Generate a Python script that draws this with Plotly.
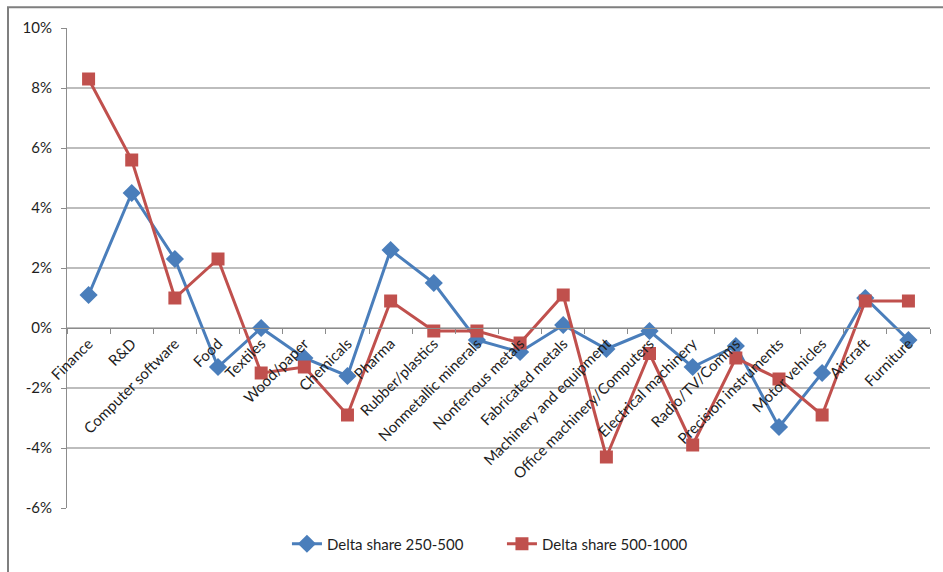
import plotly.graph_objects as go

sectors = [
    "Finance", "R&D", "Computer software", "Food", "Textiles", "Wood/paper",
    "Chemicals", "Pharma", "Rubber/plastics", "Nonmetallic minerals",
    "Nonferrous metals", "Fabricated metals", "Machinery and equipment",
    "Office machinery/Computers", "Electrical machinery", "Radio/TV/Comms",
    "Precision instruments", "Motor vehicles", "Aircraft", "Furniture",
]
delta_250_500 = [1.1, 4.5, 2.3, -1.3, 0.0, -1.0, -1.6, 2.6, 1.5, -0.4,
                 -0.8, 0.1, -0.7, -0.1, -1.3, -0.6, -3.3, -1.5, 1.0, -0.4]
delta_500_1000 = [8.3, 5.6, 1.0, 2.3, -1.5, -1.3, -2.9, 0.9, -0.1, -0.1,
                  -0.5, 1.1, -4.3, -0.85, -3.9, -1.0, -1.7, -2.9, 0.9, 0.9]
y_ticks = [-6, -4, -2, 0, 2, 4, 6, 8, 10]

BLUE = "#4A7EBB"
RED = "#C0504D"
GRID = "#BDBDBD"
AXIS = "#8C8C8C"
FONT = "Lato, 'Open Sans', sans-serif"
TEXT = "#1E1E1E"

fig = go.Figure()
fig.add_trace(go.Scatter(
    x=sectors, y=delta_250_500, name="Delta share 250-500",
    mode="lines+markers",
    line=dict(color=BLUE, width=3),
    marker=dict(symbol="diamond", size=14, color=BLUE),
))
fig.add_trace(go.Scatter(
    x=sectors, y=delta_500_1000, name="Delta share 500-1000",
    mode="lines+markers",
    line=dict(color=RED, width=3),
    marker=dict(symbol="square", size=13, color=RED),
))
# carrier for the category axis that sits on the 0% line
fig.add_trace(go.Scatter(
    x=sectors, y=[0] * len(sectors), xaxis="x2", mode="markers",
    marker=dict(opacity=0), showlegend=False, hoverinfo="skip",
))

y_min, y_max = -6, 10
cat_range = [-0.5, len(sectors) - 0.5]

# outer chart border
frame = dict(
    type="rect", xref="paper", yref="paper",
    x0=(8 - 67) / 863, x1=(950 - 67) / 863,
    y0=-(600 - 511) / 483, y1=1 + 21 / 483,
    line=dict(color="#7F7F7F", width=2),
    fillcolor="rgba(0,0,0,0)", layer="above",
)

fig.update_layout(
    width=943, height=572,
    margin=dict(l=67, r=13, t=28, b=61),
    paper_bgcolor="white", plot_bgcolor="white",
    font=dict(family=FONT, size=15, color=TEXT),
    showlegend=True,
    legend=dict(
        orientation="h", x=0.504, y=-0.075, xanchor="center", yanchor="middle",
        font=dict(size=15, color=TEXT), entrywidth=170,
        bgcolor="rgba(0,0,0,0)",
    ),
    xaxis=dict(
        type="category", categoryorder="array", categoryarray=sectors,
        range=cat_range, showticklabels=False, ticks="",
        showline=False, showgrid=False, zeroline=False,
    ),
    xaxis2=dict(
        type="category", categoryorder="array", categoryarray=sectors,
        range=cat_range, overlaying="x",
        anchor="free", position=(0 - y_min) / (y_max - y_min),
        tickangle=-45, tickson="boundaries",
        ticks="outside", ticklen=5, tickcolor=AXIS,
        showline=True, linecolor=AXIS, linewidth=1,
        showgrid=False, zeroline=False, tickfont=dict(size=15, color=TEXT),
    ),
    yaxis=dict(
        range=[y_min, y_max], tickmode="array", tickvals=y_ticks,
        ticktext=[f"{v}%" for v in y_ticks], ticklabelstandoff=6,
        ticks="outside", ticklen=5, tickcolor=AXIS,
        showline=True, linecolor=AXIS, linewidth=1,
        showgrid=True, gridcolor=GRID, gridwidth=1.5,
        zeroline=False, tickfont=dict(size=15, color=TEXT),
    ),
    shapes=[frame],
)

fig.write_html("out.html")
